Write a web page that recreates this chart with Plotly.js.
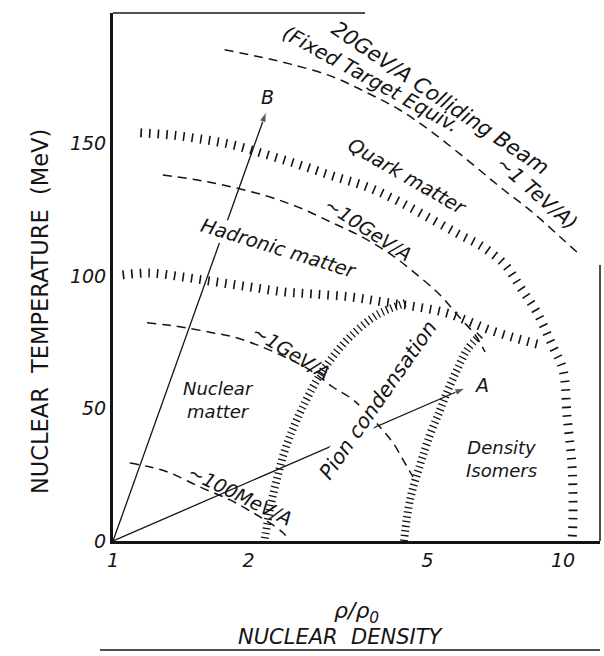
<!DOCTYPE html>
<html><head><meta charset="utf-8">
<script src="https://cdn.plot.ly/plotly-3.0.1.min.js"></script>
<style>body{margin:0;background:#fff}#chart{width:604px;height:656px}</style>
</head><body><div id="chart"></div>
<script>
// ---- axis ticks ----
const xTickVals = [1, 2, 5, 10];
const xTickText = ['1', '2', '5', '10'];
const yTickVals = [0, 50, 100, 150];
const yTickText = ['0', '50', '100', '150'];

// ---- beam-energy trajectories (rho/rho0, T MeV) ----
const mev100_x = [1.09, 1.21, 1.34, 1.56, 1.82, 2.05, 2.23, 2.39, 2.45];
const mev100_y = [29.4, 27.9, 25.7, 20.4, 15.5, 10.6, 6.8, 3.0, 0.8];
const gev1_x = [1.19, 1.32, 1.46, 1.67, 1.85, 2.09, 2.41, 2.74, 3.08, 3.42, 3.92, 4.19, 4.41, 4.64];
const gev1_y = [82.3, 81.5, 80.4, 78.5, 77.0, 74.0, 69.4, 64.5, 58.1, 53.2, 43.0, 37.0, 30.6, 24.2];
const gev10_x = [1.29, 1.62, 2.15, 2.60, 3.04, 3.54, 4.13, 4.74, 5.33, 5.90, 6.38, 6.71];
const gev10_y = [138.1, 135.5, 130.6, 125.7, 120.4, 115.1, 108.3, 100.4, 92.8, 84.2, 77.7, 71.3];
const tev1_x = [1.77, 2.07, 2.47, 3.08, 3.67, 4.34, 5.14, 6.12, 7.24, 8.58, 9.85, 10.91];
const tev1_y = [185.3, 183.0, 180.0, 175.1, 169.1, 162.6, 154.0, 143.8, 133.6, 123.8, 114.7, 107.9];

// ---- phase boundaries (hatched) ----
const quarkBand_x = [1.15, 1.34, 1.56, 1.85, 2.20, 2.60, 3.08, 3.67, 4.34, 5.14, 5.90, 6.64, 7.43, 8.03, 8.76, 9.50, 10.0, 10.21, 10.47, 10.52, 10.47];
const quarkBand_y = [154.0, 153.2, 151.7, 149.4, 145.7, 141.9, 137.7, 133.6, 127.9, 121.1, 115.5, 110.9, 104.2, 95.8, 86.0, 73.2, 64.5, 46.8, 27.9, 9.1, 0];
const hadronBand_x = [1.05, 1.21, 1.43, 1.70, 2.02, 2.39, 2.78, 3.36, 3.98, 4.74, 5.52, 6.22, 6.88, 7.82, 8.89];
const hadronBand_y = [100.4, 101.1, 99.6, 97.7, 95.8, 94.0, 93.2, 92.1, 90.2, 88.3, 86.0, 82.6, 79.6, 76.6, 74.0];
const pionBand_x = [4.46, 3.86, 3.36, 3.04, 2.84, 2.56, 2.41, 2.31, 2.23, 2.17];
const pionBand_y = [89.8, 85.3, 77.0, 68.3, 60.8, 45.7, 34.3, 23.0, 11.7, 0];
const isomerBand_x = [6.54, 6.12, 5.81, 5.55, 5.33, 5.06, 4.81, 4.57, 4.43];
const isomerBand_y = [77.7, 72.1, 64.5, 57.0, 49.4, 40.0, 28.7, 15.5, 0];

// ---- arrows A and B ----
const pathA_x = [1, 6.06];
const pathA_y = [0, 57.7];
const pathB_x = [1, 2.19];
const pathB_y = [0, 161.9];

const INK = '#141414';
const FONT = 'DejaVu Sans';

function dashed(x, y) {
  return {x, y, mode: 'lines', type: 'scatter', hoverinfo: 'skip',
    line: {color: INK, width: 1.5, dash: '9px,6px', shape: 'spline'}};
}
function hatched(x, y, w, pattern) {
  return {x, y, mode: 'lines', type: 'scatter', hoverinfo: 'skip',
    line: {color: INK, width: w, dash: pattern, shape: 'spline'}};
}
function arrow(x, y) {
  return {x, y, mode: 'lines+markers', type: 'scatter', hoverinfo: 'skip',
    line: {color: INK, width: 1.3},
    marker: {symbol: 'arrow', size: [0, 11], angleref: 'previous', color: INK}};
}

const traces = [
  dashed(mev100_x, mev100_y),
  dashed(gev1_x, gev1_y),
  dashed(gev10_x, gev10_y),
  dashed(tev1_x, tev1_y),
  hatched(quarkBand_x, quarkBand_y, 9, '1.6px,7px'),
  hatched(hadronBand_x, hadronBand_y, 9, '1.6px,7px'),
  hatched(pionBand_x, pionBand_y, 8, '1.3px,3.4px'),
  hatched(isomerBand_x, isomerBand_y, 8, '1.3px,3.4px'),
  arrow(pathA_x, pathA_y),
  arrow(pathB_x, pathB_y)
];

// pixel -> paper helpers for label placement
const PX = p => (p - 113) / 487;
const PY = p => (541 - p) / 528;

function lab(text, px, py, angle, size, bg) {
  return {text, xref: 'paper', yref: 'paper', x: PX(px), y: PY(py),
    xanchor: 'center', yanchor: 'middle', showarrow: false, textangle: angle || 0,
    bgcolor: bg ? '#ffffff' : 'rgba(0,0,0,0)', borderpad: 0,
    font: {family: FONT, size: size || 19, color: INK, style: 'italic'}};
}

const annotations = [
  lab('20GeV/A Colliding Beam', 440, 98, 34, 21),
  lab('(Fixed Target Equiv.', 371, 79, 29, 20),
  lab('~1 TeV/A)', 537, 193, 41, 20),
  lab('Quark matter', 407, 176, 30, 19.5),
  lab('~10GeV/A', 368, 229, 33, 19),
  lab('Hadronic matter', 279, 248, 17, 19.5, true),
  lab('~1GeV/A', 291, 352, 31, 19),
  lab('Nuclear<br>matter', 218, 400, 0, 18),
  lab('~100MeV/A', 240, 495, 26, 19),
  lab('Pion condensation', 378, 400, -55, 20.5, true),
  lab('Density<br>Isomers', 501, 459, 0, 18),
  lab('A', 481, 385, 0, 19),
  lab('B', 267, 97, 0, 19),
  {text: 'NUCLEAR  TEMPERATURE  (MeV)', xref: 'paper', yref: 'paper', x: PX(40), y: PY(312),
    xanchor: 'center', yanchor: 'middle', showarrow: false, textangle: -90,
    font: {family: FONT, size: 22.5, color: INK}},
  {text: 'ρ/ρ<sub>0</sub>', xref: 'paper', yref: 'paper', x: PX(356), y: PY(612),
    xanchor: 'center', yanchor: 'middle', showarrow: false,
    font: {family: FONT, size: 22, color: INK, style: 'italic'}},
  {text: 'NUCLEAR  DENSITY', xref: 'paper', yref: 'paper', x: PX(341), y: PY(637),
    xanchor: 'center', yanchor: 'middle', showarrow: false,
    font: {family: FONT, size: 21, color: INK, style: 'italic'}}
];

const shapes = [
  {type: 'line', xref: 'paper', yref: 'paper', x0: 0, x1: PX(365), y0: 1, y1: 1, line: {color: INK, width: 1.5}},
  {type: 'line', xref: 'paper', yref: 'paper', x0: 1, x1: 1, y0: 0, y1: PY(265), line: {color: INK, width: 1.5}},
  {type: 'line', xref: 'paper', yref: 'paper', x0: PX(100), x1: PX(600), y0: PY(650), y1: PY(650), line: {color: INK, width: 1.3}}
];

const layout = {
  width: 604, height: 656,
  margin: {l: 113, r: 4, t: 13, b: 115},
  paper_bgcolor: '#fff', plot_bgcolor: '#fff',
  showlegend: false,
  xaxis: {type: 'log', range: [0, 1.082], tickvals: xTickVals, ticktext: xTickText,
    showgrid: false, zeroline: false, showline: true, linewidth: 3, linecolor: INK,
    ticks: '', tickfont: {family: FONT, size: 19, color: INK, style: 'italic'}},
  yaxis: {range: [0, 199.2], tickvals: yTickVals, ticktext: yTickText,
    showgrid: false, zeroline: false, showline: true, linewidth: 3, linecolor: INK,
    ticks: '', tickfont: {family: FONT, size: 19, color: INK, style: 'italic'}},
  annotations, shapes
};

Plotly.newPlot('chart', traces, layout, {displayModeBar: false, staticPlot: true});
</script></body></html>
